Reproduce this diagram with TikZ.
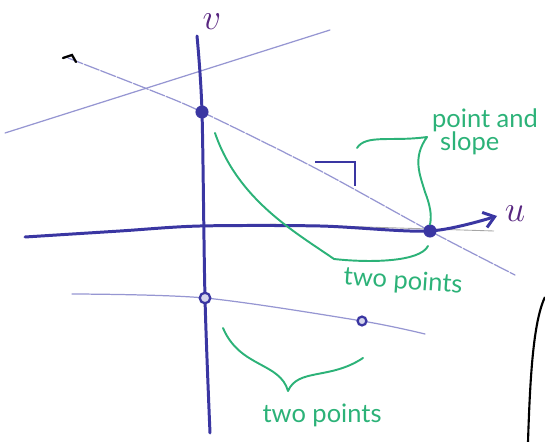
\documentclass[tikz,border=0pt]{standalone}
\usepackage{fontspec}
\setmainfont{Lato}
\usepackage{xcolor}
\usepackage{tikz}
\usetikzlibrary{arrows.meta, positioning}

\definecolor{axisblue}{RGB}{58,54,162}
\definecolor{guideblue}{RGB}{150,150,210}
\definecolor{bracegreen}{RGB}{44,178,120}
\definecolor{labelink}{RGB}{88,38,128}

\begin{document}
\begin{tikzpicture}[
    x=0.02cm, y=-0.02cm,
    axis/.style={draw=axisblue, line width=1.7pt, line cap=round},
    guide/.style={draw=guideblue, line width=0.7pt, line cap=round},
    dot/.style={circle, fill=axisblue, draw=axisblue, inner sep=0pt, minimum size=7pt},
    ring/.style={circle, draw=axisblue, fill=guideblue!40, line width=1.3pt, inner sep=0pt, minimum size=6pt},
    brace/.style={draw=bracegreen, line width=1.1pt, line cap=round, line join=round},
    note/.style={text=bracegreen, font=\fontsize{14.5}{15}\selectfont, align=center, inner sep=0pt},
    axlabel/.style={text=labelink, font=\fontsize{22}{22}\selectfont, inner sep=0pt},
]
\useasboundingbox (0,0) rectangle (545,442);

%% Punti sugli assi e sulle rette
\coordinate (pa) at (202,112);
\coordinate (pb) at (430,231);
\coordinate (pc) at (205,298);
\coordinate (pd) at (362,321);

%% Estremi
\coordinate (vtop) at (197,36);
\coordinate (vbot) at (210,433);
\coordinate (utail) at (25,237);
\coordinate (uhead) at (497,216);
\coordinate (ra) at (5,133);
\coordinate (rb) at (330,30);
\coordinate (sa) at (68,58);
\coordinate (sb) at (515,275);
\coordinate (ta) at (72,294);
\coordinate (tb) at (425,334);
\coordinate (cend) at (363,358);

%% Rette sottili
\draw[guide] (ra) -- (rb);
\draw[guide, dash pattern=on 9pt off 1pt] plot[smooth, tension=0.5]
    coordinates {(sa) (150,90) (pa) (315,168) (pb) (sb)};
\draw[guide] plot[smooth, tension=0.5] coordinates {(ta) (pc) (pd) (tb)};
\draw[black!35, line width=0.5pt] (270,224) -- (494,231);

%% Segno nero all'inizio della retta
\draw[black, line width=1.3pt, line cap=round] (63,58) -- (72,55) -- (76,62);

%% Assi
\draw[axis] plot[smooth, tension=0.5] coordinates {(vtop) (pa) (pc) (vbot)};
\draw[axis, -{Straight Barb[length=6pt, width=9pt]}] plot[smooth, tension=0.5]
    coordinates {(utail) (120,231) (200,226) (320,226) (pb) (uhead)};

\node[axlabel] (vlab) at (212,22) {$v$};
\node[axlabel] (ulab) at (515,214) {$u$};

%% Punti
\node[dot] (dota) at (pa) {};
\node[dot] (dotb) at (pb) {};
\node[ring] (dotc) at (pc) {};
\node[ring, minimum size=5pt] (dotd) at (pd) {};

%% Angolo retto
\draw[axisblue, line width=1.4pt] (315,162) -- (355,162) -- (355,186);

%% Parentesi verdi
\draw[brace] (215,133) .. controls (238,200) and (295,232) .. (334,259)
    .. controls (370,263) and (420,262) .. (428,246);
\draw[brace] (357,148) .. controls (366,134) and (392,142) .. (427,137)
    .. controls (412,158) and (420,175) .. (425,192)
    .. controls (430,205) and (432,215) .. (dotb.north);
\draw[brace] (223,328) .. controls (240,368) and (280,362) .. (288,391)
    .. controls (298,368) and (330,380) .. (cend);

%% Testi
\node[note] (ps) at (485,132) {point and\\[-2pt]\hspace*{-1.2em}slope};
\node[note, rotate=-4] (tp1) at (403,282) {two points};
\node[note] (tp2) at (322,415) {two points};

%% Linea nera in basso a destra
\draw[black, line width=1.2pt] (545,297) .. controls (533,322) and (530,380) .. (528,442);

\end{tikzpicture}
\end{document}
